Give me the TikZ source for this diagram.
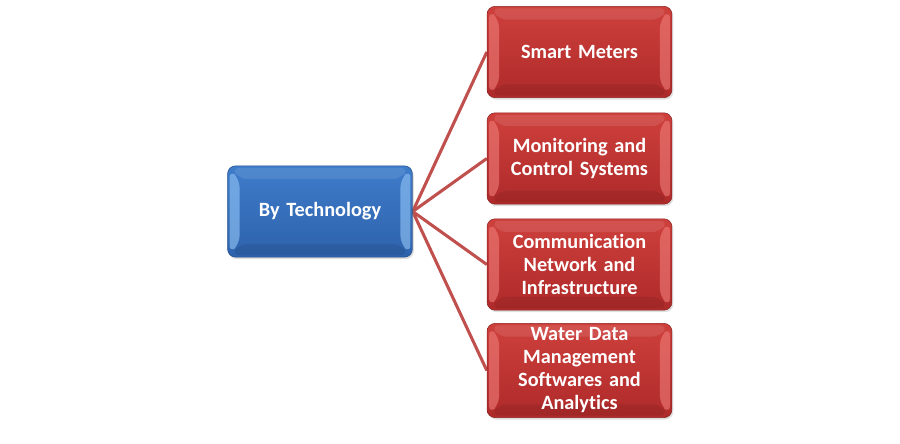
\documentclass[tikz,border=0pt]{standalone}
\usepackage{fontspec}
\setmainfont{Carlito}[Ligatures=NoCommon]
\usetikzlibrary{calc,shadows,backgrounds}
\definecolor{techblue}{RGB}{62,124,202}
\definecolor{techbluedark}{RGB}{46,98,172}
\definecolor{techbluelight}{RGB}{140,192,242}
\definecolor{segred}{RGB}{206,64,60}
\definecolor{segreddark}{RGB}{174,42,42}
\definecolor{segredlight}{RGB}{236,120,116}
\definecolor{linkred}{RGB}{192,80,77}
\tikzset{%
    bevelbox/.style n args={3}{%
        rounded corners=6pt, minimum width=138pt, minimum height=68.5pt,
        top color=#1, bottom color=#2, draw=#2!80!black, line width=0.4pt,
        text=white, font=\fontsize{15.2pt}{17.25pt}\selectfont\bfseries,
        align=center, text width=132pt,
        drop shadow={opacity=0.25, shadow xshift=1pt, shadow yshift=-1.5pt},
        path picture={%
            \fill[#3, opacity=0.65]
                ([xshift=1.5pt,yshift=-3pt]path picture bounding box.north west) --
                ([xshift=9pt,yshift=-10pt]path picture bounding box.north west) --
                ([xshift=9pt,yshift=10pt]path picture bounding box.south west) --
                ([xshift=1.5pt,yshift=3pt]path picture bounding box.south west) -- cycle;
            \fill[#3, opacity=0.65]
                ([xshift=-1.5pt,yshift=-3pt]path picture bounding box.north east) --
                ([xshift=-9pt,yshift=-10pt]path picture bounding box.north east) --
                ([xshift=-9pt,yshift=10pt]path picture bounding box.south east) --
                ([xshift=-1.5pt,yshift=3pt]path picture bounding box.south east) -- cycle;
            \fill[white, opacity=0.1]
                ([xshift=3pt,yshift=-1.5pt]path picture bounding box.north west) --
                ([xshift=9pt,yshift=-10pt]path picture bounding box.north west) --
                ([xshift=-9pt,yshift=-10pt]path picture bounding box.north east) --
                ([xshift=-3pt,yshift=-1.5pt]path picture bounding box.north east) -- cycle;
            \fill[black, opacity=0.08]
                ([xshift=3pt,yshift=1.5pt]path picture bounding box.south west) --
                ([xshift=9pt,yshift=10pt]path picture bounding box.south west) --
                ([xshift=-9pt,yshift=10pt]path picture bounding box.south east) --
                ([xshift=-3pt,yshift=1.5pt]path picture bounding box.south east) -- cycle;
        }
    },
    techbox/.style={bevelbox={techblue}{techbluedark}{techbluelight}},
    segbox/.style={bevelbox={segred}{segreddark}{segredlight}},
    link/.style={draw=linkred, line width=2.3pt}
}

\begin{document}
\begin{tikzpicture}[x=0.75pt,y=-0.75pt]
\useasboundingbox (0,0) rectangle (900,443);

\node[techbox] (tech) at (320,211.5) {By Technology};

\node[segbox] (meters) at (579.5,52) {Smart Meters};
\node[segbox] (control) at (579.5,158.5) {Monitoring and\\Control Systems};
\node[segbox] (network) at (579.5,264.5) {Communication\\Network and\\Infrastructure};
\node[segbox] (software) at (579.5,370.5) {Water Data\\Management\\Softwares and\\Analytics};

\begin{scope}[on background layer]
\foreach \seg in {meters,control,network,software}
    \draw[link] (tech.east) -- (\seg.west);
\end{scope}
\end{tikzpicture}
\end{document}
